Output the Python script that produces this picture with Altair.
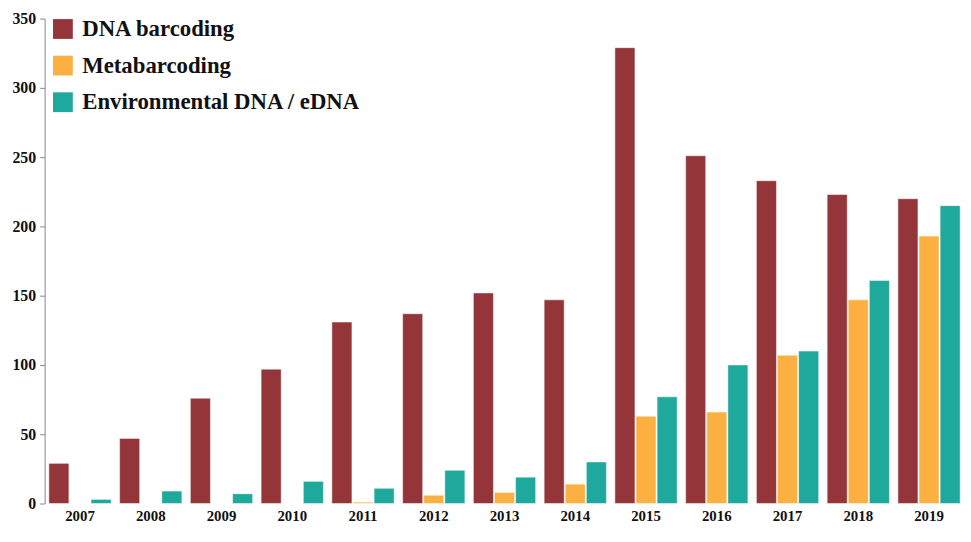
import altair as alt
import pandas as pd

years = [str(y) for y in range(2007, 2020)]
dna_barcoding = [29, 47, 76, 97, 131, 137, 152, 147, 329, 251, 233, 223, 220]
metabarcoding = [0, 0, 0, 0, 1, 6, 8, 14, 63, 66, 107, 147, 193]
edna = [3, 9, 7, 16, 11, 24, 19, 30, 77, 100, 110, 161, 215]
series = ["DNA barcoding", "Metabarcoding", "Environmental DNA / eDNA"]
colors = ["#94353a", "#fdb042", "#1fa89c"]
y_ticks = [0, 50, 100, 150, 200, 250, 300, 350]

rows = []
for i, yr in enumerate(years):
    for s, vals in zip(series, [dna_barcoding, metabarcoding, edna]):
        rows.append({"year": yr, "series": s, "count": vals[i]})
df = pd.DataFrame(rows)

font = "Liberation Serif"

chart = alt.Chart(df).mark_bar(
    stroke="white", strokeOpacity=0.5, strokeWidth=1, opacity=1
).encode(
    x=alt.X(
        "year:N",
        scale=alt.Scale(paddingInner=0.12, paddingOuter=0.05, align=0.6),
        axis=alt.Axis(
            title=None, labelAngle=0, domain=False, ticks=False,
            labelFont=font, labelFontSize=15, labelFontWeight="bold",
            labelColor="#111", labelPadding=5,
        ),
    ),
    xOffset=alt.XOffset("series:N", sort=series, scale=alt.Scale(paddingInner=0.05)),
    y=alt.Y(
        "count:Q",
        scale=alt.Scale(domain=[0, 350], nice=False),
        axis=alt.Axis(
            title=None, values=y_ticks, grid=False,
            domainColor="#888", tickColor="#888", tickSize=5, labelPadding=4,
            labelFont=font, labelFontSize=16, labelFontWeight="bold",
            labelColor="#111",
        ),
    ),
    color=alt.Color(
        "series:N",
        sort=series,
        scale=alt.Scale(domain=series, range=colors),
        legend=alt.Legend(
            title=None, orient="none", legendX=7, legendY=-1,
            symbolType="square", symbolSize=400, symbolStrokeWidth=0,
            symbolOpacity=1, labelFont=font, labelFontSize=23,
            labelFontWeight="bold", labelColor="#111", rowPadding=13,
            labelOffset=8, padding=0, labelLimit=500,
        ),
    ),
).properties(
    width=928, height=490,
    padding={"left": 4, "top": 0, "right": 0, "bottom": 0},
).configure_view(stroke=None)

chart.save("out.html", embed_options={"renderer": "svg", "actions": False})
